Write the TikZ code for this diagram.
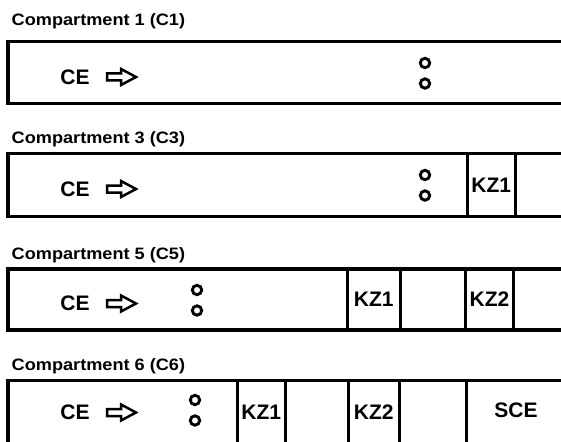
\documentclass[tikz,border=0pt]{standalone}
\usepackage{fontspec}
\usepackage{graphicx}
\setmainfont{Liberation Sans}
\begin{document}
\begin{tikzpicture}[x=1pt,y=-1pt,
  frame/.style={line width=3.5pt},
  kzline/.style={draw, line width=3pt},
  kz/.style={draw, line width=3pt, rectangle, inner sep=0pt, font=\fontsize{21}{21}\selectfont\bfseries},
  lbl/.style={inner sep=0pt, font=\fontsize{21}{21}\selectfont\bfseries},
  ttl/.style={anchor=base west, inner sep=0pt, font=\fontsize{16.5}{16.5}\selectfont\bfseries},
  ring/.style={circle, draw, line width=2.9pt, minimum size=9.4pt, inner sep=0pt},
  openarr/.style={draw, line width=2.5pt, line join=miter, fill=white},
  pics/openarrow/.style={code={\draw[openarr] (0,-3.5) -- (14,-3.5) -- (14,-8) -- (29,0) -- (14,8) -- (14,3.5) -- (0,3.5) -- cycle;}}]
\useasboundingbox (0,0) rectangle (561,441);
\fill[white] (0,0) rectangle (561,441);
\clip (0,0) rectangle (561,441);

% ---------- Compartment 1 ----------
\node[ttl] (t1) at (11.5,26) {\scalebox{1.1}[1]{Compartment 1 (C1)}};
\draw[frame] (570,41.5) -| (8,103.5) -- (570,103.5);
\node[lbl] (ce1) at (75,77) {CE};
\pic (ar1) at (107,77) {openarrow};
\node[ring] (r1a) at (425,63) {};
\node[ring] (r1b) at (425,83.5) {};

% ---------- Compartment 3 ----------
\node[ttl] (t2) at (11.5,143) {\scalebox{1.1}[1]{Compartment 3 (C3)}};
\draw[frame] (570,153.5) -| (8,216.5) -- (570,216.5);
\node[lbl] (ce2) at (75,189) {CE};
\pic (ar2) at (107,189) {openarrow};
\node[ring] (r2a) at (425,175) {};
\node[ring] (r2b) at (425,195.5) {};
\node[kz, minimum width=47.5pt, minimum height=63pt] (kz1b) at (491.25,185) {KZ1};

% ---------- Compartment 5 ----------
\node[ttl] (t3) at (11.5,259) {\scalebox{1.1}[1]{Compartment 5 (C5)}};
\draw[frame] (570,269) -| (8,330) -- (570,330);
\node[lbl] (ce3) at (75,303.5) {CE};
\pic (ar3) at (107,303.5) {openarrow};
\node[ring] (r3a) at (197,290) {};
\node[ring] (r3b) at (197,310.5) {};
\node[kz, minimum width=52.5pt, minimum height=61pt] (kz1c) at (373.75,299.5) {KZ1};
\node[kz, minimum width=48pt, minimum height=61pt] (kz2c) at (489.5,299.5) {KZ2};

% ---------- Compartment 6 ----------
\node[ttl] (t4) at (11.5,370) {\scalebox{1.1}[1]{Compartment 6 (C6)}};
\draw[frame] (570,380.5) -| (8,450) -- (570,450);
\node[lbl] (ce4) at (75,412.5) {CE};
\pic (ar4) at (107,412.5) {openarrow};
\node[ring] (r4a) at (195,400) {};
\node[ring] (r4b) at (195,420.5) {};
\node[kz, minimum width=47.5pt, minimum height=69.5pt] (kz1d) at (261.25,415.25) {};
\node[lbl] (kz1dt) at (261.25,412.5) {KZ1};
\node[kz, minimum width=50.5pt, minimum height=69.5pt] (kz2d) at (373.75,415.25) {};
\node[lbl] (kz2dt) at (373.75,412.5) {KZ2};
\draw[kzline] (466.5,450) -- (466.5,380.5) -- (600,380.5);
\node[lbl] (sce) at (516,410) {SCE};
\end{tikzpicture}
\end{document}
